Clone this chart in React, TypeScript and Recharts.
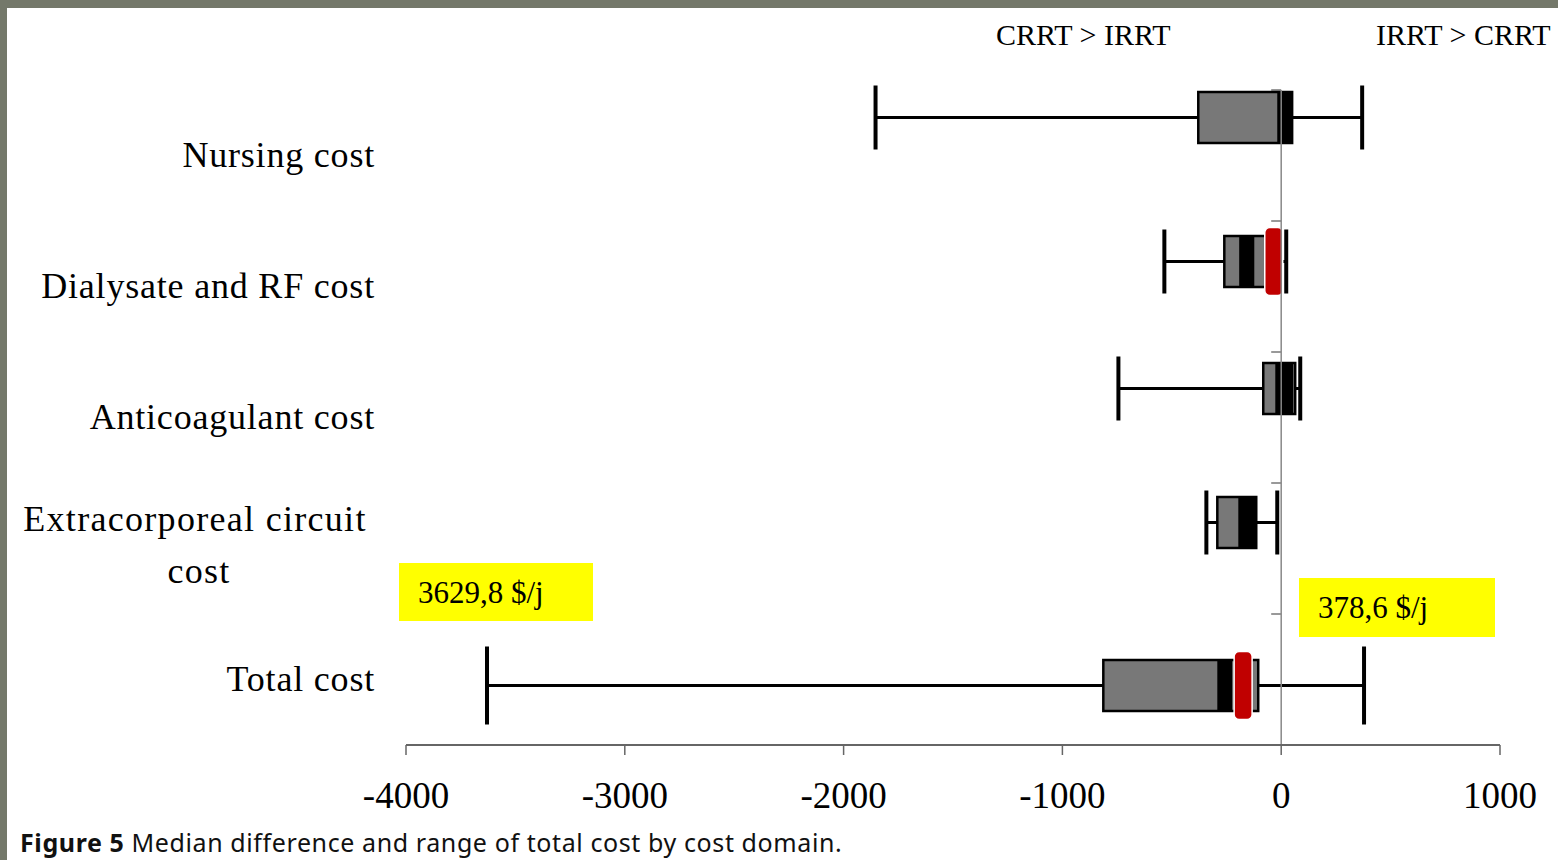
import React from "react";
import { ComposedChart, Bar, XAxis, YAxis, ReferenceLine } from "recharts";

// Cost domains, top to bottom
const domains = [
  "Nursing cost",
  "Dialysate and RF cost",
  "Anticoagulant cost",
  "Extracorporeal circuit cost",
  "Total cost",
];

// Range (whisker ends), $/day
const rangeLow = [-1854, -534, -744, -342, -3629.8];
const rangeHigh = [370, 23, 87, -18, 378.6];

// Box extent
const boxLow = [-379, -260, -82, -292, -813];
const boxHigh = [50, -10, 64, -114, -105];

// Dark inner segment of each box
const darkLow = [-18, -192, -27, -196, -292];
const darkHigh = [50, -123, 55, -114, -224];

// Red median marker (where shown)
const medianMark: (number | null)[] = [null, -34, null, null, -174];

const xTicks = [-4000, -3000, -2000, -1000, 0, 1000];

const data = domains.map((name, i) => ({
  name,
  idx: i,
  range: [rangeLow[i], rangeHigh[i]],
}));

// vertical nudge of each box row inside its band
const rowShift = [-38, -25, -29, -26, 6];

const SERIF = '"Liberation Serif", "Times New Roman", serif';

function BoxShape(props: any) {
  const { x, y, width, height, payload } = props;
  const i = payload.idx;
  const lo = rangeLow[i];
  const hi = rangeHigh[i];
  const left = Math.min(x, x + width);
  const w = Math.abs(width);
  const px = (v: number) => left + ((v - lo) / (hi - lo)) * w;
  const cy = y + height / 2 + rowShift[i];
  const capH = i === 4 ? 78 : 64;
  const boxH = 51;
  const med = medianMark[i];
  return (
    <g>
      <line x1={px(0) - 10} x2={px(0)} y1={y} y2={y} stroke="#777" strokeWidth={1.5} />
      <line x1={px(lo)} x2={px(hi)} y1={cy} y2={cy} stroke="#000" strokeWidth={3} />
      <line x1={px(lo)} x2={px(lo)} y1={cy - capH / 2} y2={cy + capH / 2} stroke="#000" strokeWidth={4} />
      <line x1={px(hi)} x2={px(hi)} y1={cy - capH / 2} y2={cy + capH / 2} stroke="#000" strokeWidth={4} />
      <rect
        x={px(boxLow[i])}
        y={cy - boxH / 2}
        width={px(boxHigh[i]) - px(boxLow[i])}
        height={boxH}
        fill="#787878"
        stroke="#000"
        strokeWidth={2.5}
      />
      <rect
        x={px(darkLow[i])}
        y={cy - boxH / 2}
        width={px(darkHigh[i]) - px(darkLow[i])}
        height={boxH}
        fill="#000"
      />
      {med !== null && (
        <rect
          x={px(med) - 9}
          y={cy - 34}
          width={18}
          height={68}
          rx={5}
          fill="#c00000"
          stroke="#fff"
          strokeWidth={1.5}
        />
      )}
    </g>
  );
}

function DomainTick(props: any) {
  const { y, payload } = props;
  const label: string = payload.value;
  if (label === "Extracorporeal circuit cost") {
    return (
      <text fontFamily={SERIF} fontSize={36} letterSpacing={1.3} fill="#000" textAnchor="middle">
        <tspan x={195} y={y - 18}>Extracorporeal circuit</tspan>
        <tspan x={199} y={y + 34}>cost</tspan>
      </text>
    );
  }
  return (
    <text x={375} y={y + 11} fontFamily={SERIF} fontSize={36} letterSpacing={0.8} fill="#000" textAnchor="end">
      {label}
    </text>
  );
}

function CostTick(props: any) {
  const { x, payload } = props;
  return (
    <text x={x} y={808} fontFamily={SERIF} fontSize={37} fill="#000" textAnchor="middle">
      {payload.value}
    </text>
  );
}

const yellowBox: React.CSSProperties = {
  position: "absolute",
  background: "#ffff00",
  fontFamily: SERIF,
  fontSize: 31,
  color: "#000",
  boxSizing: "border-box",
};

export default function App() {
  return (
    <div
      style={{
        position: "absolute",
        left: 0,
        top: 0,
        width: 1558,
        height: 860,
        background: "#74786a",
        overflow: "hidden",
      }}
    >
      <div style={{ position: "absolute", left: 7, top: 8, right: 0, bottom: 0, background: "#fff" }} />
      <div style={{ position: "absolute", left: 0, top: 0 }}>
        <ComposedChart
          width={1558}
          height={860}
          layout="vertical"
          data={data}
          barCategoryGap={0}
          margin={{ top: 90, right: 58, bottom: 55, left: 0 }}
        >
          <XAxis
            type="number"
            domain={[-4000, 1000]}
            ticks={xTicks}
            allowDataOverflow
            height={60}
            axisLine={{ stroke: "#666", strokeWidth: 2 }}
            tickLine={{ stroke: "#666", strokeWidth: 1.5 }}
            tickSize={10}
            tick={<CostTick />}
            interval={0}
          />
          <YAxis
            type="category"
            dataKey="name"
            width={406}
            axisLine={false}
            tickLine={false}
            tick={<DomainTick />}
            interval={0}
          />
          <ReferenceLine x={0} stroke="#888" strokeWidth={1.5} />
          <Bar dataKey="range" shape={<BoxShape />} isAnimationActive={false} />
        </ComposedChart>
      </div>
      <div style={{ position: "absolute", left: 996, top: 18, fontFamily: SERIF, fontSize: 30, whiteSpace: "nowrap" }}>
        CRRT &gt; IRRT
      </div>
      <div style={{ position: "absolute", left: 1376, top: 18, fontFamily: SERIF, fontSize: 30, whiteSpace: "nowrap" }}>
        IRRT &gt; CRRT
      </div>
      <div style={{ ...yellowBox, left: 399, top: 563, width: 194, height: 58, padding: "12px 0 0 19px" }}>
        3629,8 $/j
      </div>
      <div style={{ ...yellowBox, left: 1299, top: 578, width: 196, height: 59, padding: "12px 0 0 19px" }}>
        378,6 $/j
      </div>
      <div
        style={{
          position: "absolute",
          left: 20,
          top: 827,
          fontFamily: '"Noto Sans", sans-serif',
          fontSize: 25,
          lineHeight: "30px",
          letterSpacing: 0.6,
          color: "#111",
          whiteSpace: "nowrap",
        }}
      >
        <b>Figure 5</b> Median difference and range of total cost by cost domain.
      </div>
    </div>
  );
}
